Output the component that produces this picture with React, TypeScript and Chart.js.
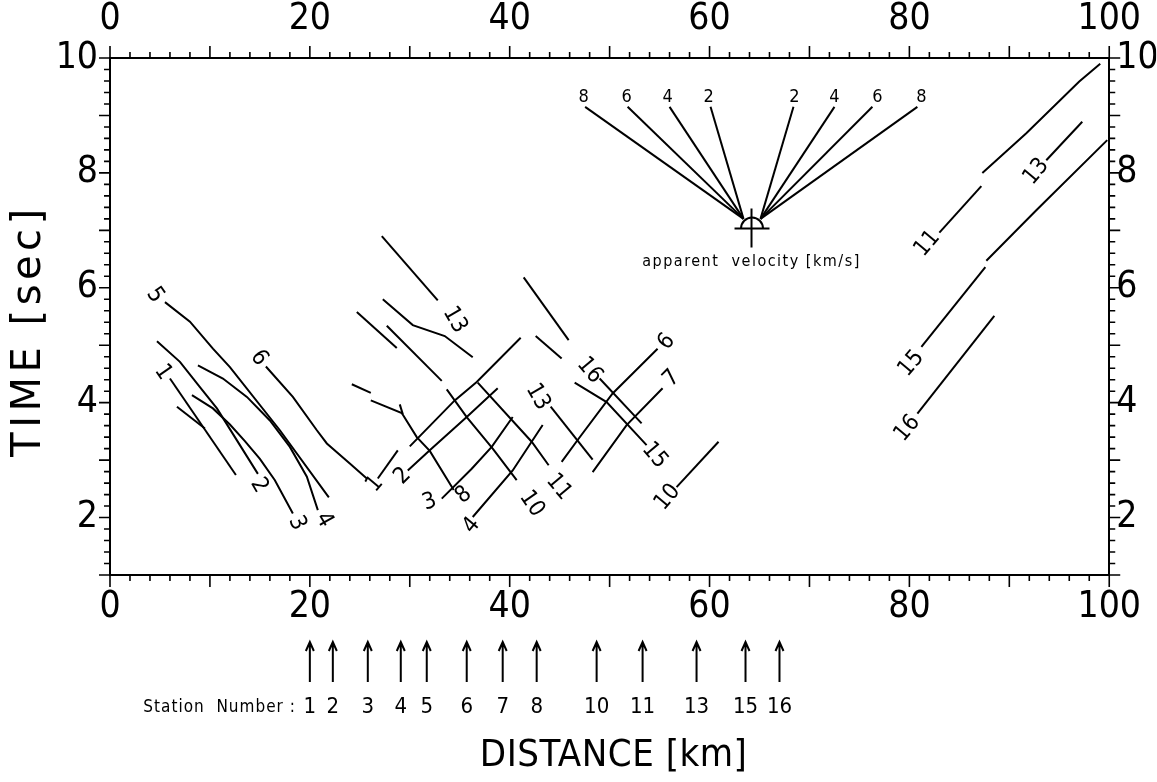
import React, { useEffect, useRef } from 'react';
import { Chart, registerables } from 'chart.js';

Chart.register(...registerables);

const FONT = '"DejaVu Sans Condensed", "DejaVu Sans", sans-serif';
const FONT_WIDE = '"DejaVu Sans", sans-serif';

// axis tick labels
const xTickValues = [0, 20, 40, 60, 80, 100];
const yTickValues = [2, 4, 6, 8, 10];

// travel-time branches [distance km, time s]
const branchL5 = [[5.5, 5.75], [8.0, 5.41], [10.3, 4.94], [12.0, 4.62], [17.0, 3.52], [21.9, 2.35]];
const branchL4 = [[8.8, 4.65], [11.3, 4.42], [13.7, 4.1], [16.0, 3.69], [18.0, 3.23], [19.7, 2.71], [20.8, 2.13]];
const branchL3 = [[8.2, 4.13], [10.3, 3.9], [12.0, 3.62], [13.5, 3.33], [15.0, 3.02], [16.5, 2.65], [18.3, 2.07]];
const branchL2 = [[4.7, 5.07], [7.0, 4.71], [9.0, 4.27], [10.7, 3.9], [12.5, 3.4], [14.8, 2.76]];
const branchL1 = [[6.0, 4.42], [12.6, 2.74]];
const branchL1b = [[6.7, 3.93], [9.5, 3.55]];
const branchL6 = [[15.6, 4.63], [18.3, 4.1], [20.7, 3.52], [21.7, 3.29], [24.0, 2.94], [25.7, 2.68]];

const branchM13a = [[27.2, 6.9], [32.8, 5.78]];
const branchM13b = [[27.3, 5.8], [30.3, 5.35], [33.5, 5.16], [36.3, 4.79]];
const branchMa = [[24.7, 5.58], [28.7, 4.95]];
const branchMb = [[27.7, 5.34], [33.2, 4.38]];
const branchMc = [[24.2, 4.32], [26.1, 4.17]];
const branchM3 = [[26.1, 4.04], [29.2, 3.82], [30.7, 3.4], [32.0, 3.16], [34.4, 2.48]];
const branchM3tick = [[29.0, 3.97], [29.3, 3.8]];
const branchM1 = [[26.8, 2.68], [28.8, 3.17]];
const branchM2 = [[29.8, 2.82], [32.0, 3.17], [35.7, 3.75], [38.8, 4.25]];
const branchMup = [[30.0, 3.24], [34.5, 4.04], [36.7, 4.36], [41.1, 5.13]];
const branchM8 = [[33.2, 2.33], [36.2, 2.85], [38.2, 3.23], [40.3, 3.75]];
const branchM4 = [[36.3, 2.01], [40.3, 2.82], [43.3, 3.61]];
const branchM10 = [[33.7, 4.23], [35.7, 3.75], [38.3, 3.2], [40.7, 2.65]];
const branchM11 = [[36.8, 4.35], [42.2, 3.32], [43.9, 2.91]];

const branchRa = [[41.4, 6.18], [45.9, 5.09]];
const branchRb = [[42.6, 5.16], [45.2, 4.77]];
const branchR16 = [[49.0, 4.42], [53.2, 3.64]];
const branchR15 = [[46.5, 4.35], [49.7, 4.01], [53.7, 3.26]];
const branchR13 = [[44.1, 3.93], [48.3, 3.01]];
const branchR6 = [[45.2, 2.97], [46.8, 3.35], [50.3, 4.16], [54.8, 4.94]];
const branchR7 = [[48.3, 2.79], [51.7, 3.61], [55.3, 4.25]];
const branchR10 = [[56.7, 2.53], [60.9, 3.32]];

const branchF11a = [[83.0, 6.96], [87.2, 7.77]];
const branchF11b = [[87.3, 8.0], [91.7, 8.69], [97.0, 9.59], [99.1, 9.9]];
const branchF13 = [[93.7, 8.22], [97.3, 8.89]];
const branchF15a = [[81.2, 4.97], [87.6, 6.36]];
const branchF15b = [[87.7, 6.47], [92.7, 7.35], [99.8, 8.57]];
const branchF16 = [[80.8, 3.81], [88.5, 5.51]];

// branch labels (station numbers)
const branchLabelText = ['5', '1', '6', '2', '3', '4', '1', '2', '3', '8', '4', '10', '11', '13', '13', '16', '15', '6', '7', '10', '11', '13', '15', '16'];
const branchLabelKm = [4.5, 5.3, 14.9, 14.9, 18.7, 21.4, 26.5, 29.3, 32.0, 35.4, 36.2, 42.2, 44.9, 34.5, 42.8, 48.0, 54.5, 55.7, 56.2, 55.8, 81.8, 92.7, 80.2, 79.8];
const branchLabelSec = [5.87, 4.53, 4.78, 2.56, 1.9, 1.96, 2.58, 2.72, 2.27, 2.39, 1.86, 2.24, 2.53, 5.44, 4.1, 4.56, 3.08, 5.06, 4.42, 2.35, 6.77, 8.02, 4.68, 3.55];
const branchLabelAngle = [55, 55, 55, 60, 65, 60, -50, -45, -20, -40, -50, 55, 50, 60, 60, 50, 50, -50, -45, -50, -50, -50, -50, -50];

// apparent-velocity fan
const fanVelocityText = ['8', '6', '4', '2', '2', '4', '6', '8'];
const fanTopKm = [47.55, 51.8, 56.0, 60.1, 68.4, 72.5, 76.3, 80.8];
const fanTopSec = 9.15;
const fanFootKm = [63.4, 63.4, 63.4, 63.4, 65.1, 65.1, 65.1, 65.1];
const fanFootSec = 7.2;
const fanLabelKm = [47.4, 51.7, 55.8, 59.9, 68.5, 72.5, 76.8, 81.2];
const fanLabelSec = 9.32;
const fanBase = [[62.5, 7.03], [66.0, 7.03]];
const fanStem = [[64.2, 7.38], [64.2, 6.7]];
const fanCenter = [64.25, 7.03];
const fanCaption = 'apparent  velocity [km/s]';
const fanCaptionPos = [64.2, 6.45];

// stations
const stationNames = ['1', '2', '3', '4', '5', '6', '7', '8', '10', '11', '13', '15', '16'];
const stationKm = [20.0, 22.3, 25.8, 29.1, 31.7, 35.7, 39.3, 42.7, 48.7, 53.3, 58.7, 63.6, 67.0];

const branches = [
  branchL5, branchL4, branchL3, branchL2, branchL1, branchL1b, branchL6,
  branchM13a, branchM13b, branchMa, branchMb, branchMc, branchM3, branchM3tick, branchM1, branchM2,
  branchMup, branchM8, branchM4, branchM10, branchM11,
  branchRa, branchRb, branchR16, branchR15, branchR13, branchR6, branchR7, branchR10,
  branchF11a, branchF11b, branchF13, branchF15a, branchF15b, branchF16,
  fanBase, fanStem,
];

const fanLines = fanTopKm.map((k, i) => [[k, fanTopSec], [fanFootKm[i], fanFootSec]]);

const overlayPlugin = {
  id: 'overlay',
  afterDraw(chart: any) {
    const { ctx, chartArea: a, scales } = chart;
    const xs = scales.x;
    const ys = scales.y;
    ctx.save();
    ctx.strokeStyle = '#000';
    ctx.fillStyle = '#000';
    // tick marks
    ctx.lineWidth = 1.6;
    ctx.beginPath();
    for (let i = 0; i <= 50; i++) {
      const v = i * 2;
      const px = xs.getPixelForValue(v);
      const len = v % 10 === 0 ? 12 : 6;
      ctx.moveTo(px, a.bottom);
      ctx.lineTo(px, a.bottom + len);
      ctx.moveTo(px, a.top);
      ctx.lineTo(px, a.top - len);
    }
    for (let i = 0; i <= 45; i++) {
      const v = 1 + i * 0.2;
      const py = ys.getPixelForValue(v);
      const len = i % 5 === 0 ? 11 : 6;
      ctx.moveTo(a.left - len, py);
      ctx.lineTo(a.left, py);
      ctx.moveTo(a.right, py);
      ctx.lineTo(a.right + len, py);
    }
    ctx.stroke();

    // semicircle of velocity fan
    ctx.lineWidth = 2;
    ctx.beginPath();
    ctx.arc(xs.getPixelForValue(fanCenter[0]), ys.getPixelForValue(fanCenter[1]), 11, Math.PI, 2 * Math.PI);
    ctx.stroke();

    // branch labels
    ctx.textAlign = 'center';
    ctx.textBaseline = 'middle';
    ctx.font = `23px ${FONT}`;
    branchLabelText.forEach((t, i) => {
      ctx.save();
      ctx.translate(xs.getPixelForValue(branchLabelKm[i]), ys.getPixelForValue(branchLabelSec[i]));
      ctx.rotate((branchLabelAngle[i] * Math.PI) / 180);
      ctx.fillText(t, 0, 0);
      ctx.restore();
    });

    // fan labels
    ctx.font = `18px ${FONT}`;
    fanVelocityText.forEach((t, i) => {
      ctx.fillText(t, xs.getPixelForValue(fanLabelKm[i]), ys.getPixelForValue(fanLabelSec));
    });
    ctx.font = `16px ${FONT}`;
    (ctx as any).letterSpacing = '1.5px';
    ctx.fillText(fanCaption, xs.getPixelForValue(fanCaptionPos[0]), ys.getPixelForValue(fanCaptionPos[1]));
    (ctx as any).letterSpacing = '0px';

    // station arrows
    ctx.lineWidth = 2;
    stationKm.forEach((k, i) => {
      const px = xs.getPixelForValue(k);
      const top = a.bottom + 67;
      const bot = a.bottom + 107;
      ctx.beginPath();
      ctx.moveTo(px, bot);
      ctx.lineTo(px, top);
      ctx.moveTo(px - 4, top + 9);
      ctx.lineTo(px, top);
      ctx.lineTo(px + 4, top + 9);
      ctx.stroke();
      ctx.font = `22px ${FONT}`;
      ctx.fillText(stationNames[i], px, a.bottom + 132);
    });
    ctx.textAlign = 'right';
    ctx.font = `17px ${FONT}`;
    (ctx as any).letterSpacing = '1px';
    ctx.fillText('Station  Number :', xs.getPixelForValue(stationKm[0]) - 14, a.bottom + 133);
    (ctx as any).letterSpacing = '0px';

    // axis titles
    ctx.textAlign = 'center';
    ctx.font = `38px ${FONT}`;
    (ctx as any).letterSpacing = '0.5px';
    ctx.fillText('DISTANCE [km]', (a.left + a.right) / 2 + 4, a.bottom + 181);
    ctx.save();
    ctx.font = `40px ${FONT_WIDE}`;
    (ctx as any).letterSpacing = '4.5px';
    ctx.translate(30, (a.top + a.bottom) / 2 + 14);
    ctx.rotate(-Math.PI / 2);
    ctx.fillText('TIME [sec]', 0, 0);
    ctx.restore();
    (ctx as any).letterSpacing = '0px';
    ctx.restore();
  },
};

function axisCommon(position: string, min: number, max: number, values: number[], padding: number, size: number) {
  const horizontal = position === 'top' || position === 'bottom';
  return {
    type: 'linear',
    position,
    min,
    max,
    grid: { display: false, drawTicks: false },
    border: { display: true, color: '#000', width: 2 },
    ticks: {
      color: '#000',
      font: { family: FONT, size: 37 },
      padding,
      autoSkip: false,
      maxRotation: 0,
      minRotation: 0,
    },
    afterBuildTicks: (s: any) => {
      s.ticks = values.map((v) => ({ value: v }));
    },
    afterFit: (s: any) => {
      if (horizontal) s.height = size;
      else s.width = size;
    },
  };
}

export default function App() {
  const ref = useRef<HTMLCanvasElement>(null);
  useEffect(() => {
    if (!ref.current) return;
    const datasets: any[] = [...branches, ...fanLines].map((pts) => ({
      data: pts.map(([x, y]) => ({ x, y })),
      showLine: true,
      borderColor: '#000',
      borderWidth: 2,
      pointRadius: 0,
      tension: 0,
      fill: false,
      xAxisID: 'x',
      yAxisID: 'y',
    }));
    const chart = new Chart(ref.current, {
      type: 'scatter',
      data: { datasets },
      options: {
        animation: false,
        responsive: false,
        events: [],
        layout: { padding: 0 },
        plugins: { legend: { display: false }, tooltip: { enabled: false } },
        scales: {
          x: axisCommon('bottom', 0, 100, xTickValues, 10, 207),
          x2: axisCommon('top', 0, 100, xTickValues, 16, 58),
          y: axisCommon('left', 1, 10, yTickValues, 12, 110),
          y2: axisCommon('right', 1, 10, yTickValues, 7, 47),
        } as any,
      },
      plugins: [overlayPlugin],
    });
    return () => chart.destroy();
  }, []);
  return (
    <div style={{ position: 'absolute', left: 0, top: 0, width: 1157, height: 782, background: '#fff' }}>
      <canvas ref={ref} width={1157} height={782} />
    </div>
  );
}
